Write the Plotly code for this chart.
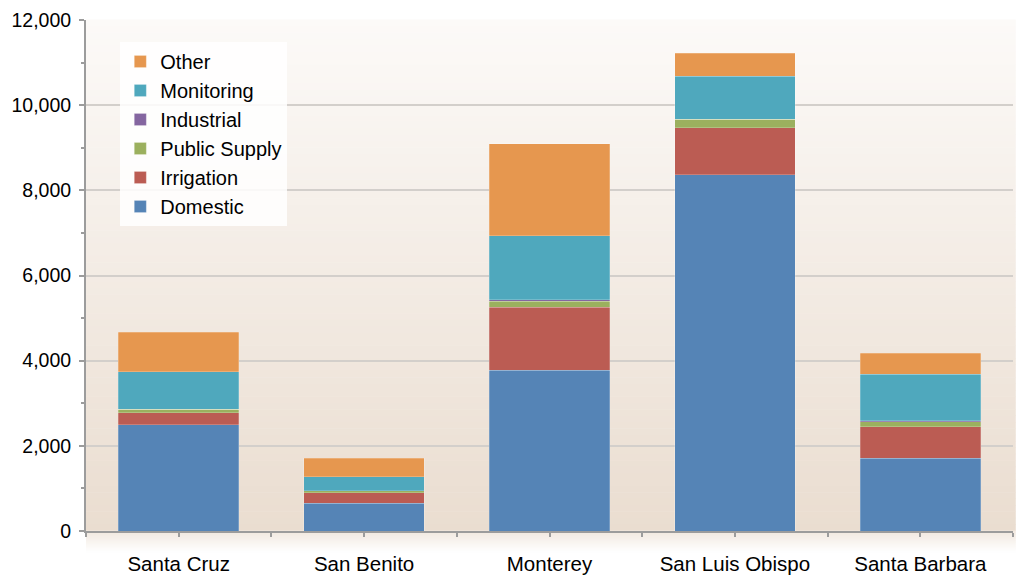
import plotly.graph_objects as go

# Wells by county and use type
counties = ["Santa Cruz", "San Benito", "Monterey", "San Luis Obispo", "Santa Barbara"]
domestic = [2490, 650, 3780, 8370, 1710]
irrigation = [290, 250, 1480, 1100, 740]
public_supply = [80, 40, 135, 195, 110]
industrial = [0, 0, 30, 0, 30]
monitoring = [880, 330, 1510, 1020, 1090]
other = [930, 440, 2160, 530, 490]

y_ticks = [0, 2000, 4000, 6000, 8000, 10000, 12000]

series = [
    ("Domestic", domestic, "#5584B6"),
    ("Irrigation", irrigation, "#BB5C53"),
    ("Public Supply", public_supply, "#9BB05E"),
    ("Industrial", industrial, "#8466A0"),
    ("Monitoring", monitoring, "#4FA8BD"),
    ("Other", other, "#E6974F"),
]

xpos = list(range(len(counties)))

fig = go.Figure()
for name, vals, color in series:
    fig.add_trace(go.Bar(
        x=xpos, y=vals, name=name,
        marker=dict(color=color, line=dict(width=0.6, color="rgba(255,255,255,0.35)")),
    ))


def mix(c1, c2, t):
    return "rgb(%d,%d,%d)" % tuple(round(a + (b - a) * t) for a, b in zip(c1, c2))


PLOT_H = 576 - 20 - 45  # height of the plotting area in px

# vertical gradient behind the plotting area
shapes = []
top_c, bot_c = (252, 250, 248), (234, 221, 208)
n = 80
for i in range(n):
    t = (i + 0.5) / n
    shapes.append(dict(
        type="rect", xref="paper", yref="paper",
        x0=0, x1=1.003, y0=1 - (i + 1) / n, y1=1 - i / n + 0.001,
        fillcolor=mix(top_c, bot_c, t), line=dict(width=0), layer="below",
    ))
# soft fade beneath the baseline
m = 11
for i in range(m):
    t = (i + 0.5) / m
    shapes.append(dict(
        type="rect", xref="paper", yref="paper",
        x0=0, x1=1.003, y0=-2 * (i + 1) / PLOT_H, y1=-2 * i / PLOT_H + 0.001,
        fillcolor=mix((241, 232, 223), (255, 255, 255), t), line=dict(width=0), layer="below",
    ))

FAMILY = "Arial, 'Liberation Sans', sans-serif"
font = dict(family=FAMILY, size=20.5, color="#000000")

fig.update_layout(
    barmode="stack",
    bargap=0.35,
    width=1016, height=576,
    margin=dict(l=86, r=3, t=20, b=45),
    paper_bgcolor="white",
    plot_bgcolor="rgba(0,0,0,0)",
    font=font,
    shapes=shapes,
    showlegend=True,
    legend=dict(
        x=0.037, y=0.957, xanchor="left", yanchor="top",
        traceorder="reversed",
        bgcolor="rgba(255,255,255,0.85)",
        font=dict(family=FAMILY, size=20, color="#000000"),
        itemwidth=30,
        tracegroupgap=0,
        borderwidth=0,
    ),
    xaxis=dict(
        range=[-0.5, len(counties) - 0.5],
        tickvals=xpos, ticktext=counties,
        automargin=False,
        showgrid=False, zeroline=False,
        showline=True, linecolor="#9C9C9C", linewidth=2,
        ticks="outside", ticklen=4, tickwidth=2, tickcolor="#9C9C9C",
        ticklabelstandoff=9,
        minor=dict(dtick=0.5, tick0=-0.5, ticks="outside", ticklen=4, tickwidth=2,
                   tickcolor="#9C9C9C", showgrid=False),
    ),
    yaxis=dict(
        range=[0, 12000],
        tickvals=y_ticks, tickformat=",d",
        tickfont=dict(family=FAMILY, size=19.5, color="#000000"),
        automargin=False,
        showgrid=True, gridcolor="#D3CFCB", gridwidth=1.5,
        zeroline=False,
        showline=True, linecolor="#9C9C9C", linewidth=2,
        ticks="outside", ticklen=5, tickwidth=2, tickcolor="#9C9C9C",
        ticklabelstandoff=4,
        minor=dict(dtick=1000, ticks="outside", ticklen=3, tickwidth=1.5,
                   tickcolor="#9C9C9C", showgrid=False),
    ),
)

fig.write_html("out.html")
